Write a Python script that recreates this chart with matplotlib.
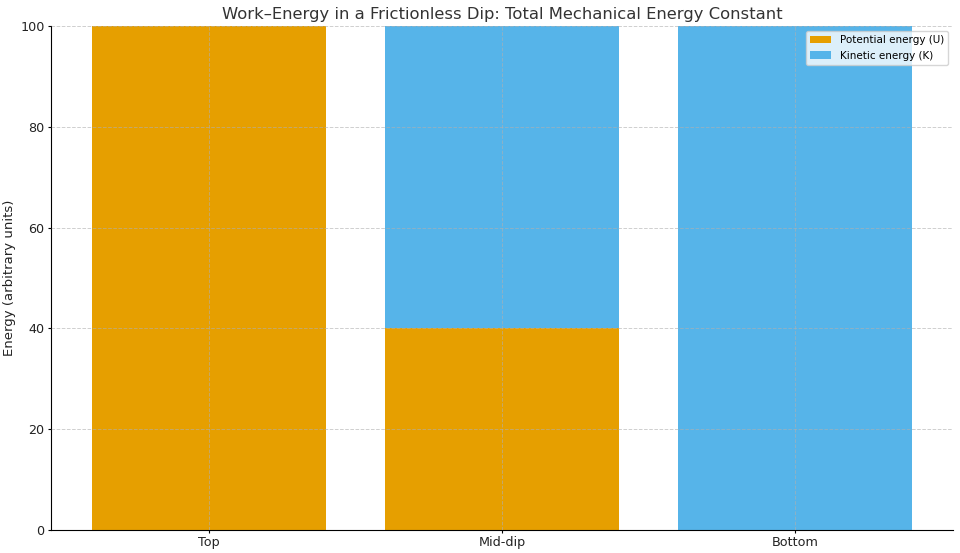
import matplotlib
matplotlib.use("Agg")
import matplotlib.pyplot as plt

categories = ["Top", "Mid-dip", "Bottom"]
potential = [100, 40, 0]
kinetic = [0, 60, 100]

fig, ax = plt.subplots(figsize=(9.6, 5.53), dpi=100)
fig.subplots_adjust(left=0.053, right=0.993, top=0.953, bottom=0.042)

ax.bar(categories, potential, color="#E69F00", label="Potential energy (U)", zorder=2)
ax.bar(categories, kinetic, bottom=potential, color="#56B4E9", label="Kinetic energy (K)", zorder=2)

ax.set_ylim(0, 100)
ax.set_ylabel("Energy (arbitrary units)", fontsize=9.5, color="#222222", labelpad=3)
ax.set_title("Work\u2013Energy in a Frictionless Dip: Total Mechanical Energy Constant",
             fontsize=11.8, color="#333333", pad=5)
ax.grid(True, linestyle="--", linewidth=0.7, color="#b0b0b0", alpha=0.6, zorder=3)
ax.set_axisbelow(False)
for s in ["top", "right"]:
    ax.spines[s].set_visible(False)
ax.tick_params(labelsize=9.2, length=2.5, pad=2, labelcolor="#222222")
ax.legend(loc="upper right", fontsize=7.5)

fig.savefig("out.png", dpi=100)
